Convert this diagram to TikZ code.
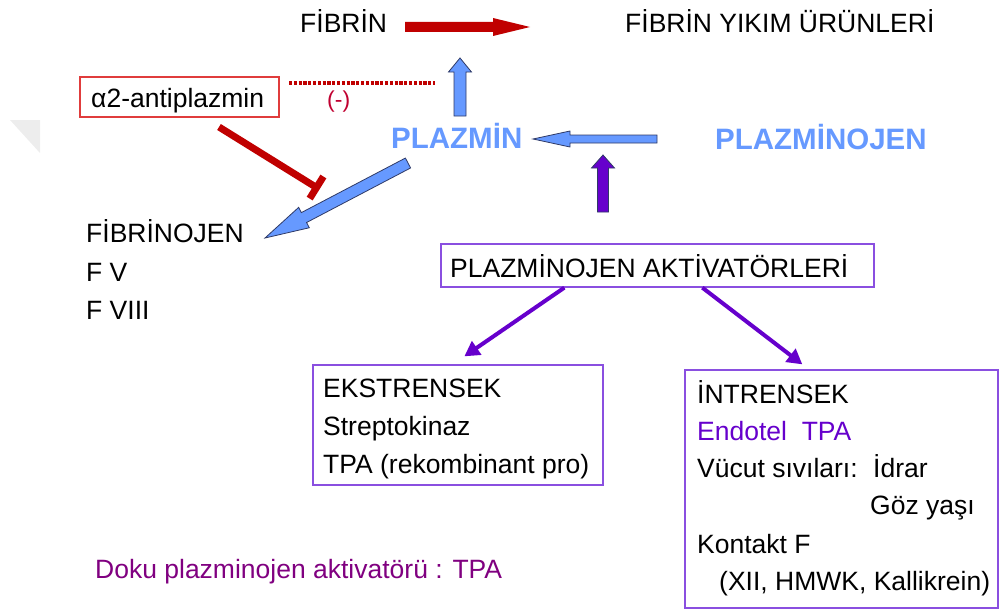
\documentclass[tikz,border=0pt]{standalone}
\usepackage{fontspec}
\setmainfont{Liberation Sans}
\usetikzlibrary{arrows.meta,calc}
\definecolor{dred}{HTML}{C00000}
\definecolor{minusred}{HTML}{C00030}
\definecolor{boxred}{HTML}{E03C3C}
\definecolor{pblue}{HTML}{6699FF}
\definecolor{outl}{HTML}{2F3A66}
\definecolor{ppurple}{HTML}{6600CC}
\definecolor{boxpurple}{HTML}{8A4FE0}
\definecolor{dokupurple}{HTML}{800080}
\newcommand\blockarrow[6]{%
  \coordinate (ba) at ($(#2)!#5!(#1)$);
  \path[#6] ($(#1)!#3!90:(#2)$) -- ($(ba)!#3!-90:(#1)$) -- ($(ba)!#4!-90:(#1)$) -- (#2)
    -- ($(ba)!#4!90:(#1)$) -- ($(ba)!#3!90:(#1)$) -- ($(#1)!#3!-90:(#2)$) -- cycle;}
\begin{document}
\begin{tikzpicture}[x=1pt,y=-1pt,
  txt/.style={anchor=base west, inner sep=0pt, font=\fontsize{26.5}{30}\selectfont},
  bigtxt/.style={anchor=base west, inner sep=0pt, font=\fontsize{29.5}{34}\selectfont\bfseries, text=pblue},
  pbox/.style={draw=boxpurple, line width=1.3pt, inner sep=0pt},
  redarrow/.style={fill=dred},
  bluearrow/.style={fill=pblue, draw=outl, line width=0.8pt, line join=miter},
  purplearrow/.style={fill=ppurple, draw=outl, line width=0.8pt, line join=miter},
  thinarrow/.style={draw=ppurple, line width=4pt, -{Triangle[length=15pt,width=16pt]}},
  inhib/.style={draw=dred, line width=7pt, -{Bar[width=26pt]}},
  dots/.style={draw=dred, line width=3.2pt, dash pattern=on 3.2pt off 1.6pt}]
\useasboundingbox (0,0) rectangle (1000,610);
\fill[black!7] (10,120) -- (40,120) -- (40,153) -- cycle;

% top texts
\node[txt] (fibrin) at (300,33) {FİBRİN};
\node[txt] (fyu) at (625,33) {FİBRİN YIKIM ÜRÜNLERİ};
\node[bigtxt] (plazmin) at (391,148) {PLAZMİN};
\node[bigtxt] (plazminojen) at (715,149) {PLAZMİNOJEN};

% alpha2-antiplasmin
\node[draw=boxred, line width=1.2pt, minimum width=199pt, minimum height=40pt, inner sep=0pt] (antip) at (179.5,97) {};
\node[txt] (antiptxt) at (91,107) {α2-antiplazmin};
\node[anchor=base west, inner sep=0pt, font=\fontsize{23}{26}\selectfont, text=minusred] (minus) at (327,107) {(-)};
\coordinate (dotA) at (289,83);
\coordinate (dotB) at (435,83);
\draw[dots] (dotA) -- (dotB);

% block arrows
\coordinate (r1) at (405,27);
\coordinate (r2) at (530,27);
\blockarrow{r1}{r2}{5pt}{9pt}{37pt}{redarrow}
\coordinate (u1) at (460,116);
\coordinate (u2) at (460,58);
\blockarrow{u1}{u2}{6pt}{11.5pt}{14pt}{bluearrow}
\coordinate (h1) at (657,139);
\coordinate (h2) at (533,139);
\blockarrow{h1}{h2}{4pt}{8pt}{37pt}{bluearrow}
\coordinate (p1) at (603,212);
\coordinate (p2) at (603,155);
\blockarrow{p1}{p2}{5.5pt}{11.5pt}{13pt}{purplearrow}
\coordinate (d1) at (408,163);
\coordinate (d2) at (265,238);
\blockarrow{d1}{d2}{5.6pt}{11.5pt}{44pt}{bluearrow}

% inhibition
\coordinate (i1) at (219,127);
\coordinate (i2) at (319.5,189.4);
\draw[inhib] (i1) -- (i2);

% left list
\node[txt] (fibrinojen) at (86,242) {FİBRİNOJEN};
\node[txt] (fv) at (86,281) {F V};
\node[txt] (fviii) at (86,319) {F VIII};

% activators
\node[pbox, minimum width=433pt, minimum height=43pt] (akt) at (657.5,265.5) {};
\node[txt] (akttxt) at (450,277) {PLAZMİNOJEN AKTİVATÖRLERİ};

\node[pbox, minimum width=290pt, minimum height=120pt] (ekst) at (458,425) {};
\node[txt] (e1) at (323,397) {EKSTRENSEK};
\node[txt] (e2) at (323,435) {Streptokinaz};
\node[txt] (e3) at (323,473) {TPA (rekombinant pro)};

\node[pbox, minimum width=313pt, minimum height=238pt] (intr) at (841.5,489) {};
\node[txt] (n1) at (697,403) {İNTRENSEK};
\node[txt, text=ppurple] (n2) at (697,440) {Endotel~~TPA};
\node[txt] (n3) at (697,477) {Vücut sıvıları:};
\node[txt] (n3b) at (873,477) {İdrar};
\node[txt] (n4) at (870,514) {Göz yaşı};
\node[txt] (n5) at (697,553) {Kontakt F};
\node[txt] (n6) at (719,590) {(XII, HMWK, Kallikrein)};

\draw[thinarrow] ($(akt.south west)+(124,0)$) -- ($(ekst.north west)+(152,-8)$);
\draw[thinarrow] ($(akt.south west)+(262,0)$) -- ($(intr.north west)+(118,-5)$);

\node[txt, text=dokupurple] (doku) at (95,578) {Doku plazminojen aktivatörü : TPA};
\end{tikzpicture}
\end{document}
